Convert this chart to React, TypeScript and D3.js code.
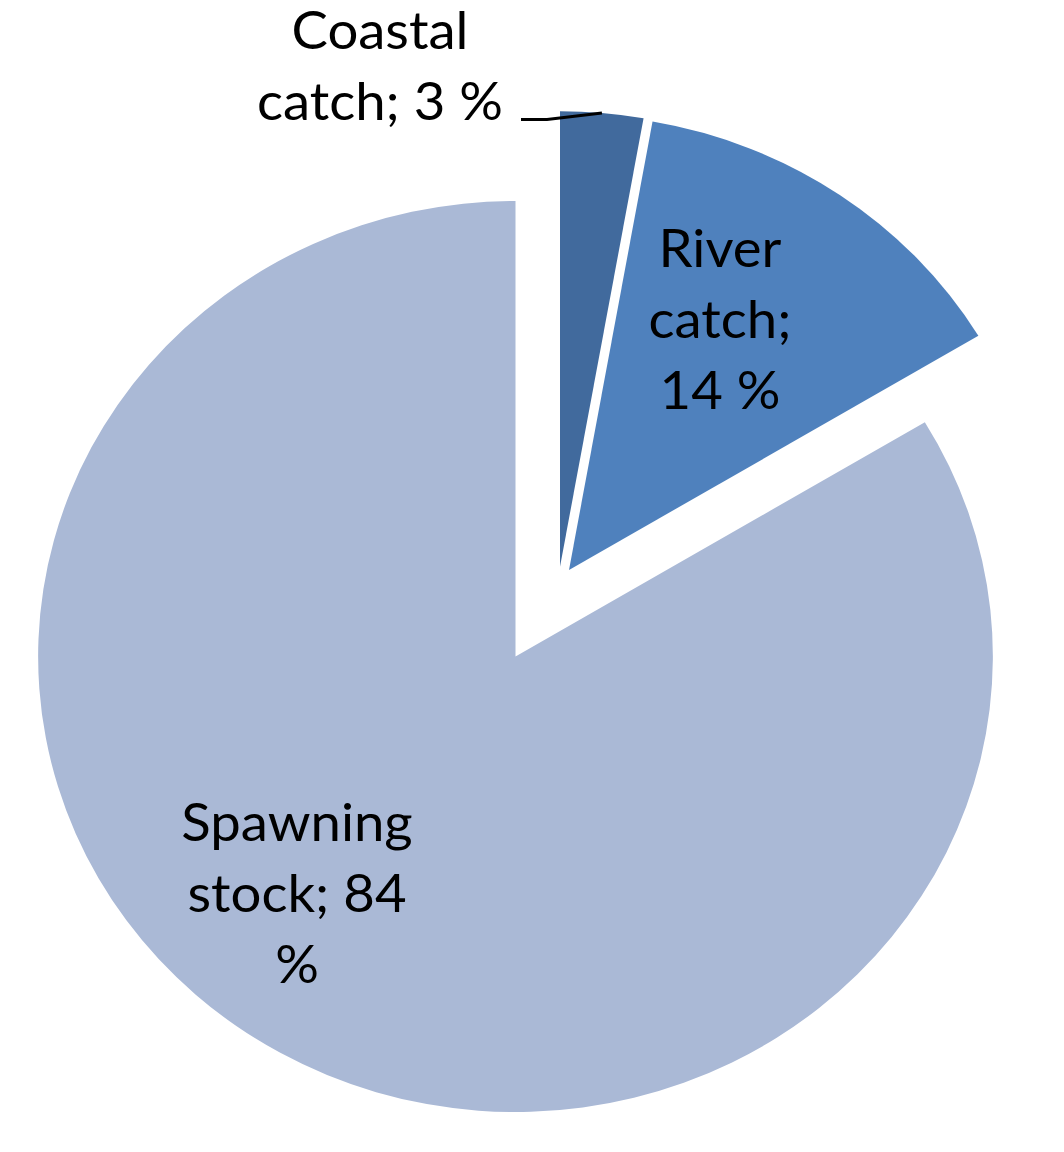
import * as d3 from "d3";

const categories = ["Coastal catch", "River catch", "Spawning stock"];
const shares = [2.8, 13.6, 83.6];
const labelLines = [
  ["Coastal", "catch; 3 %"],
  ["River", "catch;", "14 %"],
  ["Spawning", "stock; 84", "%"]
];
const colors = ["#416a9d", "#4f81bd", "#aab9d6"];

// layout (screen px)
const width = 1064;
const height = 1152;
const cx = 515.5;
const cy = 656.5;
const R = 455.5;
const sx = 1.048; // the original picture is a little wider than tall
const explode = [[44.5, -89.8], [53.5, -86.5], [0, 0]];
const labelPos = [[380, 49], [720, 267], [297, 841]];
const lineGap = 71;
const fontSize = 52;

export default function App() {
  const pie = d3.pie<number>().sort(null).value(d => d);
  const arcs = pie(shares);
  const arc = d3.arc<d3.PieArcDatum<number>>().innerRadius(0).outerRadius(R);

  // leader for the coastal label, from label to middle of the outer arc
  const a0 = arcs[0];
  const [px, py] = d3.pointRadial((a0.startAngle + a0.endAngle) / 2, R);
  const tip: [number, number] = [cx + sx * px + explode[0][0], cy + py + explode[0][1]];
  const leader = d3.line()([[521, 119.5], [547, 119.5], tip]);

  return (
    <svg width={width} height={height}
      style={{ position: "absolute", left: 0, top: 0, background: "#fff" }}
      fontFamily="Lato, 'Noto Sans', sans-serif">
      {arcs.map((a, i) => (
        <path key={categories[i]}
          transform={`translate(${cx + explode[i][0]},${cy + explode[i][1]}) scale(${sx},1)`}
          d={arc(a) || ""}
          fill={colors[i]} />
      ))}
      <path d={leader || ""} fill="none" stroke="#000" strokeWidth={3} />
      {labelLines.map((lines, i) => (
        <text key={i} x={labelPos[i][0]} y={labelPos[i][1]}
          textAnchor="middle" fontSize={fontSize} fill="#000"
          transform={`translate(${labelPos[i][0]},0) scale(${sx},1) translate(${-labelPos[i][0]},0)`}>
          {lines.map((t, j) => (
            <tspan key={j} x={labelPos[i][0]} y={labelPos[i][1] + j * lineGap}>{t}</tspan>
          ))}
        </text>
      ))}
    </svg>
  );
}
